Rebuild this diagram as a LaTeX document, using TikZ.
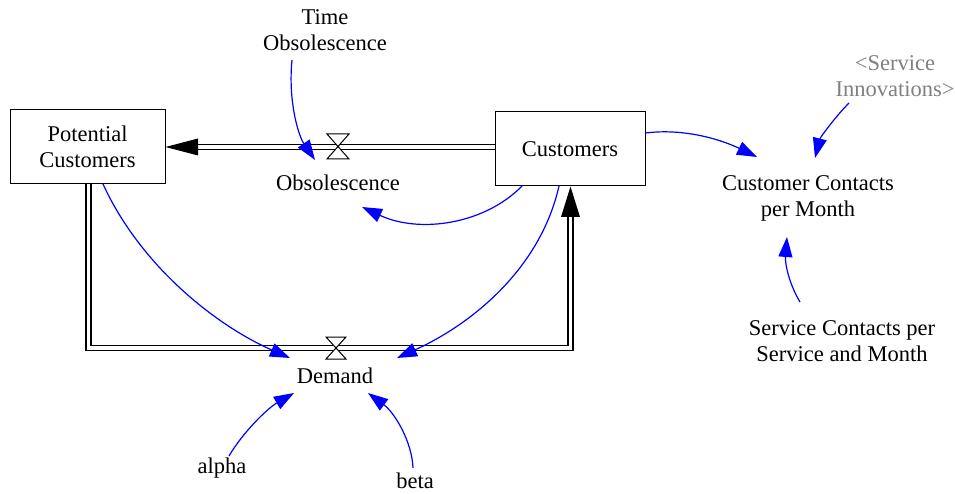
\documentclass[tikz,border=0pt]{standalone}
\usepackage{fontspec}
\setmainfont{Liberation Serif}
\usetikzlibrary{arrows.meta}
\definecolor{shadowgray}{RGB}{128,128,128}
\begin{document}
\begin{tikzpicture}[x=1pt,y=-1pt,
  lbl/.style={align=center,inner sep=0pt,font=\fontsize{22.5}{26}\selectfont},
  stock/.style={draw=black,line width=1pt,minimum width=#1,minimum height=74pt,inner sep=0pt},
  pipe/.style={draw=black,line width=1.2pt,double=white,double distance=3.8pt},
  link/.style={draw=blue,line width=1.2pt,-{Triangle[length=20pt,width=14pt]}},
  headtip/.style={fill=black},
  valve/.style={draw=black,fill=white,line width=1pt}]
\useasboundingbox (0,0) rectangle (955,494);

% stocks
\node[stock=155pt] (pot) at (87.5,147) {};
\node[lbl] (potl) at (87.5,147) {Potential\\Customers};
\node[stock=150pt] (cust) at (570,149) {};
\node[lbl] (custl) at (570,149) {Customers};

% auxiliary variables
\node[lbl] (tobs) at (325,30.5) {Time\\Obsolescence};
\node[lbl] (obs) at (338,183) {Obsolescence};
\node[lbl] (dem) at (335,376) {Demand};
\node[lbl] (ccm) at (808,198.5) {Customer Contacts\\per Month};
\node[lbl,text=shadowgray] (sinn) at (895,76.5) {<Service\\Innovations>};
\node[lbl] (scsm) at (842,341) {Service Contacts per\\Service and Month};
\node[lbl] (alpha) at (222,468) {alpha};
\node[lbl] (beta) at (415,481) {beta};

% flow: obsolescence (Customers -> Potential Customers)
\coordinate (obshead) at (198,147);
\draw[pipe] (cust.west |- 0,147) -- (obshead);
\fill[headtip] (pot.east |- 0,147) -- (obshead |- 0,138.5) -- (obshead |- 0,155.5) -- cycle;
\coordinate (v1) at (338,147);
\draw[valve] ([shift={(-11,-13)}]v1) -- ([shift={(11,-13)}]v1) -- ([shift={(-11,12)}]v1) -- ([shift={(11,12)}]v1) -- cycle;

% flow: demand (Potential Customers -> Customers)
\coordinate (demhead) at (570.5,217);
\draw[pipe] (88.5,184) -- (88.5,348) -- (570.5,348) -- (demhead);
\fill[headtip] (570.5,186.5) -- (561,217) -- (580,217) -- cycle;
\coordinate (v2) at (336,348);
\draw[valve] ([shift={(-10,-11)}]v2) -- ([shift={(10,-11)}]v2) -- ([shift={(-10,11)}]v2) -- ([shift={(10,11)}]v2) -- cycle;

% causal links
\coordinate (t1) at (315,160);
\draw[link] (292,60) .. controls (288,100) and (298,135) .. (t1);
\coordinate (t2) at (362,207);
\draw[link] (522,186) .. controls (485,224) and (420,234) .. (t2);
\coordinate (t3) at (290,358);
\draw[link] (103,184) .. controls (140,265) and (215,325) .. (t3);
\coordinate (t4) at (397,358);
\draw[link] (559,186) .. controls (540,270) and (470,325) .. (t4);
\coordinate (t5) at (757,157);
\draw[link] (cust.east |- 0,133) .. controls (685,128) and (722,140) .. (t5);
\coordinate (t6) at (815,158);
\draw[link] (849,103) .. controls (835,117) and (820,138) .. (t6);
\coordinate (t7) at (787,237);
\draw[link] (800,302) .. controls (788,282) and (785,262) .. (t7);
\coordinate (t8) at (294,393);
\draw[link] (229,456) .. controls (243,432) and (268,408) .. (t8);
\coordinate (t9) at (368,393);
\draw[link] (413,468) .. controls (412,442) and (395,413) .. (t9);
\end{tikzpicture}
\end{document}
